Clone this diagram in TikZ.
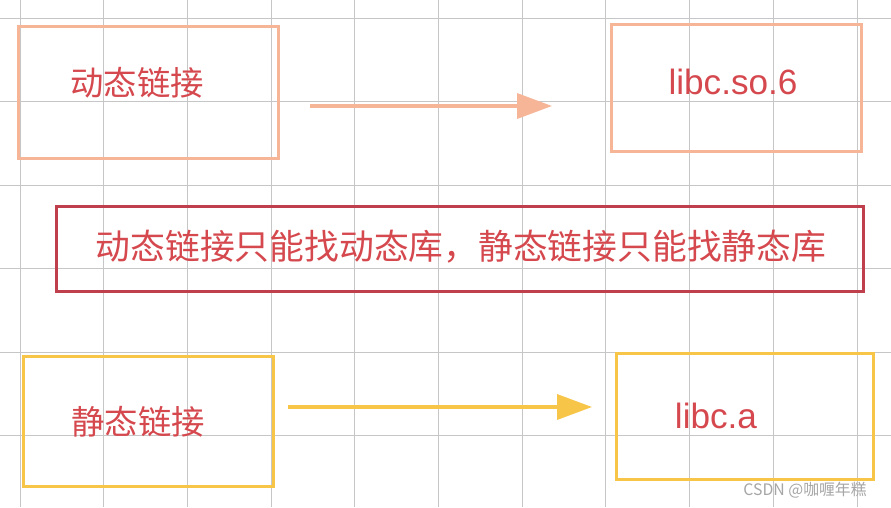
\documentclass[tikz,border=0pt]{standalone}
\usepackage{fontspec}
\setmainfont{Liberation Sans}
\newfontfamily\cjk{Noto Sans CJK SC}
\usetikzlibrary{arrows.meta,positioning}
\definecolor{salmon}{HTML}{F7B597}
\definecolor{gold}{HTML}{F7C548}
\definecolor{deepred}{HTML}{C03F4C}
\definecolor{inkred}{HTML}{D5484E}
\begin{document}
\begin{tikzpicture}[
    x=0.02cm, y=-0.02cm,
    box/.style={rectangle, draw, line width=1.6pt, inner sep=0pt, anchor=north west},
    word/.style={text=inkred, font=\cjk\fontsize{19}{22}\selectfont},
    latin/.style={text=inkred, font=\fontsize{20}{24}\selectfont},
    fat/.style={line width=2pt, -{Triangle[length=0.7cm, width=0.5cm]}}
]
    % canvas and grid
    \useasboundingbox (0,0) rectangle (891,507);
    \fill[white] (0,0) rectangle (891,507);
    \foreach \i in {0,...,10}
        \draw[gray!45, line width=0.5pt] (20+83.7*\i,0) -- (20+83.7*\i,507);
    \foreach \j in {0,...,5}
        \draw[gray!45, line width=0.5pt] (0,18+83.5*\j) -- (891,18+83.5*\j);

    % dynamic linking
    \node[box, draw=salmon, minimum width=5.2cm, minimum height=2.64cm] (dyn) at (17,25) {};
    \node[word] (dyntxt) at (137,83) {动态链接};
    \node[box, draw=salmon, minimum width=5cm, minimum height=2.54cm] (so) at (610,23) {};
    \node[latin] (sotxt) at (733,82) {libc.so.6};
    \coordinate (dynend) at (310,106);
    \coordinate (soend) at (552,106);
    \draw[fat, salmon] (dynend) -- (soend);

    % note
    \node[box, draw=deepred, minimum width=16.14cm, minimum height=1.7cm] (note) at (55,205) {};
    \node[word, font=\cjk\fontsize{19.8}{22}\selectfont] (notetxt) at (461,247) {动态链接只能找动态库，静态链接只能找静态库};

    % static linking
    \node[box, draw=gold, minimum width=5cm, minimum height=2.6cm] (sta) at (22,355) {};
    \node[word] (statxt) at (138,422) {静态链接};
    \node[box, draw=gold, minimum width=5.14cm, minimum height=2.52cm] (arc) at (615,352) {};
    \node[latin] (arctxt) at (716,416) {libc.a};
    \coordinate (staend) at (288,407);
    \coordinate (arcend) at (592,407);
    \draw[fat, gold] (staend) -- (arcend);

    % watermark
    \node[text=gray!70, font=\cjk\fontsize{9}{11}\selectfont] (mark) at (805,490) {CSDN @咖喱年糕};
\end{tikzpicture}
\end{document}
